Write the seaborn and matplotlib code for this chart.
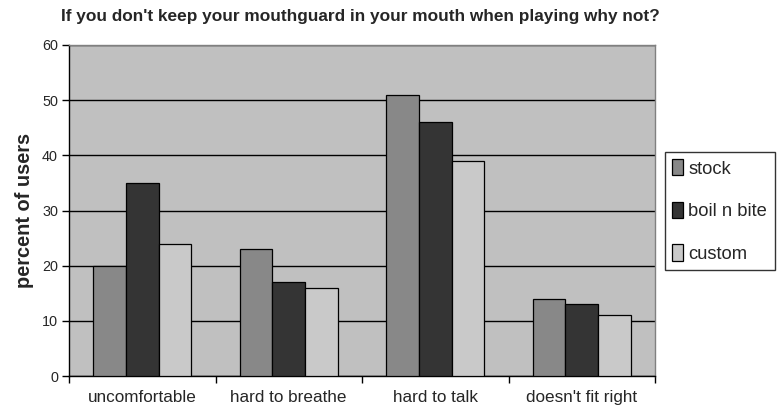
import matplotlib
matplotlib.use("Agg")
import matplotlib.pyplot as plt
import seaborn as sns
import pandas as pd
from matplotlib.ticker import FixedLocator

categories = ["uncomfortable", "hard to breathe", "hard to talk", "doesn't fit right"]
series = ["stock", "boil n bite", "custom"]
stock = [20, 23, 51, 14]
boil_n_bite = [35, 17, 46, 13]
custom = [24, 16, 39, 11]
y_ticks = [0, 10, 20, 30, 40, 50, 60]
title = "If you don't keep your mouthguard in your mouth when playing why not?"
ylabel = "percent of users"

rows = []
for s, vals in zip(series, [stock, boil_n_bite, custom]):
    for c, v in zip(categories, vals):
        rows.append({"category": c, "series": s, "value": v})
df = pd.DataFrame(rows)

sns.set_style("white")
plt.rcParams["font.family"] = ["Liberation Sans", "DejaVu Sans"]

fig = plt.figure(figsize=(7.81, 4.05), dpi=100)
ax = fig.add_axes([69/781, 1-376/405, (655-69)/781, (376-45)/405])

palette = {"stock": "#888888", "boil n bite": "#343434", "custom": "#c9c9c9"}
sns.barplot(data=df, x="category", y="value", hue="series", order=categories,
            hue_order=series, palette=palette, width=0.667, gap=0,
            edgecolor="black", linewidth=0.9, saturation=1, ax=ax, zorder=3)

ax.set_facecolor("#c0c0c0")
ax.set_ylim(0, 60)
ax.set_xlim(-0.5, len(categories) - 0.5)
ax.set_yticks(y_ticks)
ax.yaxis.grid(True, color="black", linewidth=1.0, zorder=1)
ax.set_axisbelow(True)
ax.tick_params(axis="y", which="major", direction="out", length=5, width=1,
               color="black", labelsize=10.4, pad=3, left=True)
ax.tick_params(axis="x", which="major", length=0, labelsize=12.3, pad=10)
ax.xaxis.set_minor_locator(FixedLocator([i - 0.5 for i in range(len(categories) + 1)]))
ax.tick_params(axis="x", which="minor", direction="out", length=5, width=1,
               color="black", bottom=True)
ax.set_xlabel("")
ax.set_ylabel(ylabel, fontsize=14.4, fontweight="bold", labelpad=6)

for side in ["left", "bottom"]:
    ax.spines[side].set_color("black")
    ax.spines[side].set_linewidth(1.0)
for side in ["top", "right"]:
    ax.spines[side].set_color("#808080")
    ax.spines[side].set_linewidth(1.0)
    ax.spines[side].set_visible(True)

fig.text(360/781, 1-17/405, title, ha="center", va="center",
         fontsize=12.4, fontweight="bold")

ax.get_legend().remove()
handles, labels = ax.get_legend_handles_labels()
leg = fig.legend(handles, labels, loc="center left",
                 bbox_to_anchor=(665/781, 1-211/405), fontsize=13.2,
                 frameon=True, fancybox=False, edgecolor="black",
                 handlelength=0.6, handleheight=1.0, handletextpad=0.28,
                 labelspacing=1.32, borderpad=0.4, borderaxespad=0)
leg.get_frame().set_linewidth(1.0)

fig.savefig("out.png", dpi=100)
